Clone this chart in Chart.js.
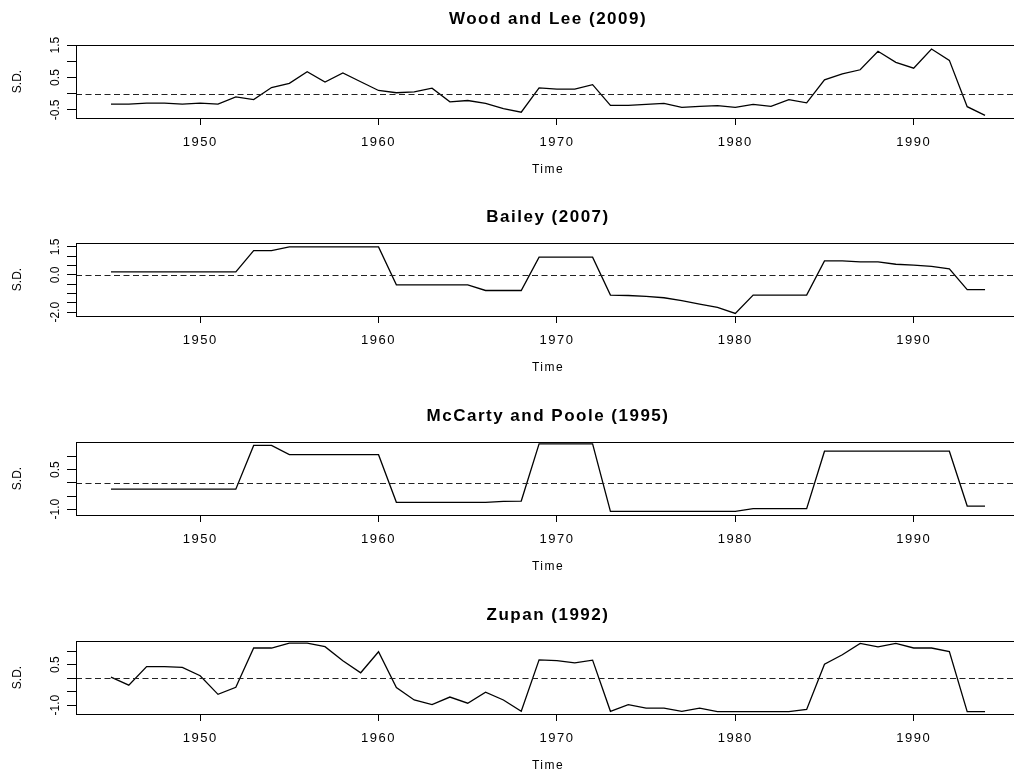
<!DOCTYPE html>
<html>
<head>
<meta charset="utf-8">
<title>S.D. over time</title>
<script src="https://cdn.jsdelivr.net/npm/chart.js@4.4.1/dist/chart.umd.min.js"></script>
<style>
    html,
    body {
        margin: 0;
        padding: 0;
        width: 1014px;
        height: 773px;
        overflow: hidden;
        background: #fff;
    }
    .panel {
        position: absolute;
        left: 0;
    }
</style>
</head>
<body>
<canvas id="woodLee" class="panel" width="1030" height="200" style="top:5px"></canvas>
<canvas id="bailey" class="panel" width="1030" height="200" style="top:203px"></canvas>
<canvas id="mccarty" class="panel" width="1030" height="200" style="top:402px"></canvas>
<canvas id="zupan" class="panel" width="1030" height="200" style="top:601px"></canvas>
<script>
//=================================================
//Data
//=================================================
const years = [
    1945, 1946, 1947, 1948, 1949, 1950, 1951, 1952, 1953, 1954,
    1955, 1956, 1957, 1958, 1959, 1960, 1961, 1962, 1963, 1964,
    1965, 1966, 1967, 1968, 1969, 1970, 1971, 1972, 1973, 1974,
    1975, 1976, 1977, 1978, 1979, 1980, 1981, 1982, 1983, 1984,
    1985, 1986, 1987, 1988, 1989, 1990, 1991, 1992, 1993, 1994,
];

const woodLee = [
    -0.32, -0.32, -0.29, -0.29, -0.32, -0.29, -0.32, -0.10, -0.18, 0.19,
    0.32, 0.68, 0.36, 0.64, 0.37, 0.10, 0.03, 0.06, 0.17, -0.25,
    -0.21, -0.30, -0.46, -0.57, 0.18, 0.14, 0.14, 0.28, -0.36, -0.36,
    -0.33, -0.30, -0.42, -0.39, -0.37, -0.42, -0.33, -0.39, -0.18, -0.28,
    0.43, 0.61, 0.74, 1.31, 0.97, 0.79, 1.38, 1.03, -0.40, -0.67,
];

const bailey = [
    0.16, 0.16, 0.16, 0.16, 0.16, 0.16, 0.16, 0.16, 1.30, 1.30,
    1.50, 1.50, 1.50, 1.50, 1.50, 1.50, -0.54, -0.54, -0.54, -0.54,
    -0.54, -0.84, -0.84, -0.84, 0.95, 0.95, 0.95, 0.95, -1.09, -1.11,
    -1.16, -1.23, -1.39, -1.57, -1.75, -2.07, -1.09, -1.09, -1.09, -1.09,
    0.75, 0.75, 0.70, 0.70, 0.57, 0.52, 0.46, 0.32, -0.79, -0.79,
];

const mccarty = [
    -0.24, -0.24, -0.24, -0.24, -0.24, -0.24, -0.24, -0.24, 1.42, 1.42,
    1.07, 1.07, 1.07, 1.07, 1.07, 1.07, -0.74, -0.74, -0.74, -0.74,
    -0.74, -0.74, -0.70, -0.69, 1.48, 1.48, 1.48, 1.48, -1.08, -1.08,
    -1.08, -1.08, -1.08, -1.08, -1.08, -1.08, -0.98, -0.98, -0.98, -0.98,
    1.20, 1.20, 1.20, 1.20, 1.20, 1.20, 1.20, 1.20, -0.88, -0.88,
];

const zupan = [
    0.04, -0.26, 0.43, 0.43, 0.40, 0.09, -0.60, -0.34, 1.12, 1.12,
    1.30, 1.30, 1.17, 0.65, 0.20, 0.98, -0.35, -0.81, -0.98, -0.70,
    -0.93, -0.52, -0.81, -1.23, 0.68, 0.65, 0.57, 0.67, -1.23, -0.98,
    -1.11, -1.11, -1.23, -1.11, -1.24, -1.24, -1.24, -1.24, -1.24, -1.16,
    0.52, 0.87, 1.29, 1.16, 1.29, 1.12, 1.12, 0.99, -1.24, -1.24,
];

const xTicks = [1950, 1960, 1970, 1980, 1990];

const woodLeeTicks = [-0.5, 0, 0.5, 1, 1.5];
const woodLeeLabels = ["-0.5", "", "0.5", "", "1.5"];
const baileyTicks = [-2, -1.5, -1, -0.5, 0, 0.5, 1, 1.5];
const baileyLabels = ["-2.0", "", "", "", "0.0", "", "", "1.5"];
const mccartyTicks = [-1, -0.5, 0, 0.5, 1];
const mccartyLabels = ["-1.0", "", "", "0.5", ""];
const zupanTicks = [-1, -0.5, 0, 0.5, 1];
const zupanLabels = ["-1.0", "", "", "0.5", ""];

//=================================================
//Chart.js
//=================================================
const FONT = "'Liberation Sans', Arial, sans-serif";

// zero line, frame, and the wider letter spacing of the R device text
const rStyle = {
    id: "rStyle",
    beforeDraw: (chart) => {
        chart.ctx.letterSpacing = "0px";
    },
    afterDatasetsDraw: (chart) => {
        const { ctx, chartArea: a, scales } = chart;
        const zero = Math.round(scales.y.getPixelForValue(0)) + 0.5;
        ctx.save();
        ctx.strokeStyle = "#222";
        ctx.lineWidth = 1.1;
        ctx.setLineDash([6, 3.5]);
        ctx.beginPath();
        ctx.moveTo(a.left, zero);
        ctx.lineTo(a.right, zero);
        ctx.stroke();
        ctx.setLineDash([]);
        ctx.strokeStyle = "#000";
        ctx.lineWidth = 1;
        ctx.strokeRect(
            Math.round(a.left) + 0.5,
            Math.round(a.top) + 0.5,
            Math.round(a.right - a.left),
            Math.round(a.bottom - a.top)
        );
        ctx.restore();
        // x labels, "Time" and the panel title are drawn after this point
        ctx.letterSpacing = "1.5px";
    },
};

const drawPanel = (id, title, values, yTicks, yLabels, yMin, yMax) => {
    const data = {
        datasets: [
            {
                data: years.map((yr, i) => ({ x: yr, y: values[i] })),
                xAxisID: "x",
                yAxisID: "y",
                borderColor: "#000",
                borderWidth: 1.3,
                pointRadius: 0,
                tension: 0,
                fill: false,
            },
        ],
    };

    const config = {
        type: "line",
        data: data,
        options: {
            responsive: false,
            animation: false,
            events: [],
            layout: {
                padding: { left: 0, right: 10, top: 0, bottom: 0 },
            },
            plugins: {
                legend: { display: false },
                title: { display: false },
                tooltip: { enabled: false },
            },
            scales: {
                x: {
                    type: "linear",
                    position: "bottom",
                    min: 1943.04,
                    max: 1995.96,
                    bounds: "data",
                    afterBuildTicks: (scale) => {
                        scale.ticks = xTicks.map((v) => ({ value: v }));
                    },
                    afterFit: (scale) => {
                        scale.height = 87;
                    },
                    grid: {
                        z: 1,
                        drawOnChartArea: false,
                        tickLength: 7,
                        color: "#000",
                    },
                    border: { display: false },
                    ticks: {
                        z: 1,
                        padding: 10,
                        color: "#000",
                        autoSkip: false,
                        maxRotation: 0,
                        font: { family: FONT, size: 13 },
                        callback: (value) => String(value),
                    },
                    title: {
                        display: true,
                        text: "Time",
                        color: "#000",
                        font: { family: FONT, size: 12 },
                        padding: { top: 0, bottom: 28 },
                    },
                },
                top: {
                    type: "linear",
                    axis: "x",
                    position: "top",
                    afterFit: (scale) => {
                        scale.height = 40;
                    },
                    grid: { display: false, z: 1 },
                    border: { display: false },
                    ticks: { display: false, z: 1 },
                    title: {
                        display: true,
                        text: title,
                        color: "#000",
                        font: { family: FONT, size: 17, weight: "bold" },
                        padding: { top: 4.6, bottom: 0 },
                    },
                },
                y: {
                    type: "linear",
                    position: "left",
                    min: yMin,
                    max: yMax,
                    bounds: "data",
                    afterBuildTicks: (scale) => {
                        scale.ticks = yTicks.map((v) => ({ value: v }));
                    },
                    afterFit: (scale) => {
                        scale.width = 76;
                    },
                    grid: {
                        drawOnChartArea: false,
                        tickLength: 9,
                        color: "#000",
                    },
                    border: { display: true, color: "#000", width: 1 },
                    ticks: {
                        padding: 0.5,
                        minRotation: 90,
                        maxRotation: 90,
                        crossAlign: "center",
                        color: "#000",
                        autoSkip: false,
                        font: { family: FONT, size: 12 },
                        callback: (value, index) => yLabels[index],
                    },
                    title: {
                        display: true,
                        text: "S.D.",
                        color: "#000",
                        font: { family: FONT, size: 12 },
                        padding: { top: 10.3, bottom: 0 },
                    },
                },
            },
        },
        plugins: [rStyle],
    };

    new Chart(document.getElementById(id), config);
};

drawPanel("woodLee", "Wood and Lee (2009)", woodLee, woodLeeTicks, woodLeeLabels, -0.75, 1.505);
drawPanel("bailey", "Bailey (2007)", bailey, baileyTicks, baileyLabels, -2.21, 1.71);
drawPanel("mccarty", "McCarty and Poole (1995)", mccarty, mccartyTicks, mccartyLabels, -1.22, 1.55);
drawPanel("zupan", "Zupan (1992)", zupan, zupanTicks, zupanLabels, -1.33, 1.38);
</script>
</body>
</html>
